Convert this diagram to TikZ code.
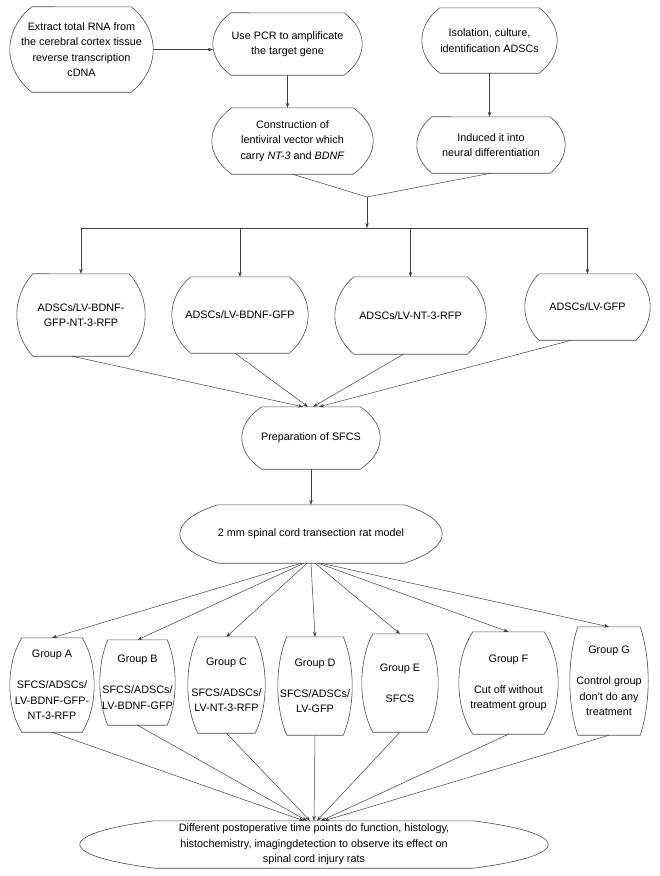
\documentclass[tikz,border=0pt]{standalone}
\usepackage{fontspec}
\setmainfont{Liberation Sans}
\usetikzlibrary{arrows.meta,calc}

\begin{document}
\begin{tikzpicture}[x=1pt,y=1pt,
  stage/.style={rectangle, inner sep=0pt, align=center, font=\fontsize{10.8}{15.5}\selectfont},
  rim/.style={draw=black!70, line width=0.6pt},
  link/.style={draw=black!75, line width=0.5pt},
  arr/.style={link, -{Stealth[length=5pt,width=3.6pt]}}]
\useasboundingbox (0,0) rectangle (660,-876);

% preparation steps
\node[stage, minimum width=143pt, minimum height=85pt] (extract) at (81.5,-49.5) {Extract total RNA from\\the cerebral cortex tissue\\reverse transcription\\cDNA};
\node[stage, minimum width=149pt, minimum height=62pt] (pcr) at (287.5,-44) {Use PCR to amplificate\\the target gene};
\node[stage, minimum width=135pt, minimum height=65pt] (isol) at (489.5,-40.5) {Isolation, culture,\\identification ADSCs};
\node[stage, minimum width=161pt, minimum height=66pt] (constr) at (292.5,-141) {Construction of\\lentiviral vector which\\carry \textit{NT-3} and \textit{BDNF}};
\node[stage, minimum width=148pt, minimum height=56pt] (induced) at (491,-145) {Induced it into\\neural differentiation};

% transfected cells
\node[stage, minimum width=128pt, minimum height=82pt] (adsc1) at (81,-315) {ADSCs/LV-BDNF-\\GFP-NT-3-RFP};
\node[stage, minimum width=136pt, minimum height=76pt] (adsc2) at (240,-315) {ADSCs/LV-BDNF-GFP};
\node[stage, minimum width=151pt, minimum height=77pt] (adsc3) at (410.5,-315.5) {ADSCs/LV-NT-3-RFP};
\node[stage, minimum width=125pt, minimum height=66pt] (adsc4) at (587.5,-307) {ADSCs/LV-GFP};

\node[stage, minimum width=138pt, minimum height=62pt] (prep) at (311,-438) {Preparation of SFCS};
\node[stage, minimum width=262pt, minimum height=58pt] (rat) at (311,-534) {2 mm spinal cord transection rat model};

% groups
\node[stage, minimum width=84pt, minimum height=94pt] (grpA) at (52,-685) {Group A\\[15.5pt]SFCS/ADSCs/\\LV-BDNF-GFP-\\NT-3-RFP};
\node[stage, minimum width=75pt, minimum height=85pt] (grpB) at (137.5,-682.5) {Group B\\[15.5pt]SFCS/ADSCs/\\LV-BDNF-GFP};
\node[stage, minimum width=77pt, minimum height=96pt] (grpC) at (226.5,-685) {Group C\\[15.5pt]SFCS/ADSCs/\\LV-NT-3-RFP};
\node[stage, minimum width=74pt, minimum height=98pt] (grpD) at (315,-686) {Group D\\[15.5pt]SFCS/ADSCs/\\LV-GFP};
\node[stage, minimum width=76pt, minimum height=98pt] (grpE) at (400,-683) {Group E\\[15.5pt]SFCS};
\node[stage, minimum width=99pt, minimum height=102pt] (grpF) at (508.5,-683) {Group F\\[15.5pt]Cut off without\\treatment group};
\node[stage, minimum width=78pt, minimum height=108pt] (grpG) at (609,-681) {Group G\\[15.5pt]Control group\\don't do any\\treatment};

\node[stage, minimum width=468pt, minimum height=47pt] (final) at (314,-844.5) {Different postoperative time points do function, histology,\\histochemistry, imagingdetection to observe its effect on\\spinal cord injury rats};

% outlines: ellipse cut by top and bottom edge
\foreach \bx/\dd in {extract/22, pcr/18, isol/18, constr/20, induced/15, adsc1/16, adsc2/19, adsc3/19, adsc4/14, prep/20, rat/38, grpA/12, grpB/8, grpC/10, grpD/9, grpE/11, grpF/14, grpG/8, final/75}
  \draw[rim] let \p1=(\bx.north east), \p2=(\bx.center), \n1={\x1-\x2}, \n2={\y1-\y2},
      \n3={acos(1-\dd/\n1)}, \n4={\n2/sin(\n3)} in
    ($(\p2)+(\n1-\dd,\n2)$) arc[start angle=\n3, end angle=-\n3, x radius=\n1, y radius=\n4]
    -- ($(\p2)+(\dd-\n1,-\n2)$) arc[start angle=180+\n3, end angle=180-\n3, x radius=\n1, y radius=\n4] -- cycle;

% connectors
\draw[arr] (extract.east) -- (extract.east -| pcr.west);
\draw[arr] (pcr.south) -- (pcr.south |- constr.north);
\draw[arr] (isol.south) -- (isol.south |- induced.north);

\coordinate (merge) at (367,-197);
\coordinate (bus) at (367,-228);
\draw[link] (constr.south) -- (merge);
\draw[link] (induced.south) -- (merge);
\draw[arr] (merge) -- (bus);
\foreach \a in {adsc1,adsc2,adsc3,adsc4}
  \draw[arr] (bus) -| (\a.north);

\foreach \a/\r/\s in {adsc1/-9/-8, adsc2/-5/-3, adsc3/-7/2, adsc4/-16/8}
  \draw[arr] ([xshift=\r pt]\a.south) -- ([xshift=\s pt]prep.north);
\draw[arr] (prep.south) -- (rat.north);

\foreach \g/\s in {grpA/-10, grpB/-7, grpC/-4, grpD/0, grpE/4, grpF/7, grpG/10}
  \draw[arr] ([xshift=\s pt]rat.south) -- (\g.north);
\foreach \g/\s in {grpA/-10, grpB/-7, grpC/-4, grpD/0, grpE/3, grpF/7, grpG/10}
  \draw[arr] (\g.south) -- ([xshift=\s pt]final.north);
\end{tikzpicture}
\end{document}
